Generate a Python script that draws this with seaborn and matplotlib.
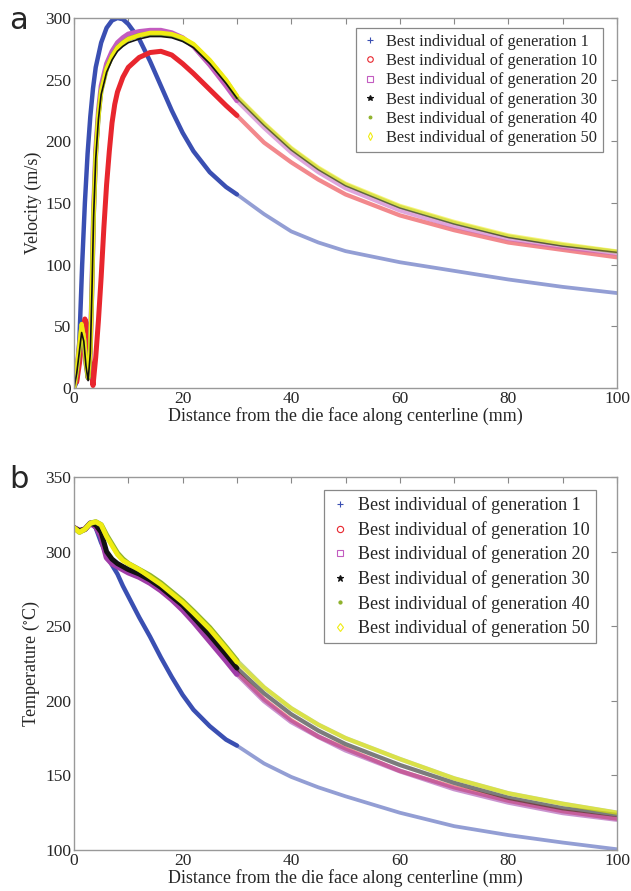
import matplotlib
matplotlib.use("Agg")
import matplotlib.pyplot as plt
from matplotlib.lines import Line2D
from matplotlib.ticker import MultipleLocator
import seaborn as sns
import pandas as pd

# ---- data ----
gen_labels = ["Best individual of generation 1", "Best individual of generation 10",
              "Best individual of generation 20", "Best individual of generation 30",
              "Best individual of generation 40", "Best individual of generation 50"]

# panel a: velocity (m/s) along centerline
vel_x_g1 = [0, 0.5, 1, 1.5, 2, 2.5, 3, 3.5, 4, 5, 6, 7, 8, 9, 10, 12, 14, 16, 18, 20,
            22, 25, 28, 30, 35, 40, 45, 50, 60, 70, 80, 90, 100]
vel_g1 = [0, 5, 40, 100, 150, 190, 220, 243, 260, 280, 292, 298, 300, 299, 295, 283, 265,
          245, 225, 207, 192, 175, 163, 157, 141, 127, 118, 111, 102, 95, 88, 82, 77]

vel_x_g10 = [0.5, 1, 1.5, 2, 2.5, 3, 3.5, 4, 4.5, 5, 5.5, 6, 6.5, 7, 7.5, 8, 9, 10, 12, 14,
             16, 18, 20, 22, 25, 28, 30, 35, 40, 45, 50, 60, 70, 80, 90, 100]
vel_g10 = [5, 20, 40, 56, 50, 20, 2, 25, 55, 90, 130, 165, 192, 215, 230, 240, 252, 260,
           268, 272, 273, 270, 263, 255, 242, 229, 221, 199, 183, 169, 157, 140, 128, 118, 112, 106]

vel_x_top = [0, 0.5, 1, 1.4, 1.8, 2.2, 2.6, 3, 3.3, 3.6, 4, 4.5, 5, 6, 7, 8, 9, 10, 12, 14,
             16, 18, 20, 22, 25, 28, 30, 35, 40, 45, 50, 60, 70, 80, 90, 100]
vel_g20 = [0, 15, 35, 48, 40, 20, 8, 30, 82, 143, 193, 225, 245, 263, 273, 280, 284, 287,
           289, 290, 290, 288, 284, 277, 262, 245, 233, 211, 191, 175, 162, 144, 131, 121, 114, 109]
vel_g30 = [0, 12, 30, 45, 38, 18, 6, 28, 78, 138, 186, 218, 238, 256, 266, 273, 277, 280,
           283, 285, 285, 284, 281, 276, 263, 247, 235, 213, 193, 177, 164, 146, 133, 122, 115, 110]
vel_g40 = [0, 14, 33, 50, 40, 20, 8, 30, 80, 140, 189, 221, 241, 259, 269, 276, 280, 283,
           286, 287, 287, 286, 283, 278, 265, 249, 236, 214, 194, 178, 165, 147, 134, 123, 116, 110.5]
vel_g50 = [0, 15, 35, 52, 42, 22, 9, 31, 80, 140, 189, 221, 241, 259, 269, 276, 280, 283,
           286, 288, 288, 287, 284, 279, 266, 250, 237, 215, 195, 179, 166, 148, 135, 124, 117, 111]

# panel b: temperature (degC) along centerline
tmp_x = [0, 1, 2, 3, 4, 5, 6, 7, 8, 9, 10, 12, 14, 16, 18, 20, 22, 25, 28, 30,
         35, 40, 45, 50, 60, 70, 80, 90, 100]
tmp_g1 = [316, 314, 315, 319, 316, 306, 298, 291, 285, 277, 270, 256, 243, 229, 216, 204,
          194, 183, 174, 170, 158, 149, 142, 136, 125, 116, 110, 105, 100.5]
tmp_g10 = [316, 314, 315, 319, 317, 311, 297, 293, 291, 289, 287, 284, 280, 275, 269, 262,
           254, 241, 228, 219, 201, 187, 176, 168, 153, 142, 133, 126, 121]
tmp_g20 = [316, 314, 315, 319, 317, 310, 296, 292, 290, 288, 286, 283, 279, 274, 268, 261,
           253, 240, 227, 218, 200, 186, 176, 167, 153, 141, 132, 125, 120.5]
tmp_g30 = [316, 314, 315, 319, 318, 313, 300, 295, 292, 290, 288, 285, 281, 276, 270, 264,
           256, 244, 231, 222, 205, 191, 180, 171, 157, 145, 135, 128, 123.5]
tmp_g40 = [316, 313, 315, 319, 320, 318, 311, 305, 299, 295, 292, 288, 284, 279, 273, 267,
           260, 249, 236, 227, 209, 195, 184, 175, 161, 148, 138, 131, 125]
tmp_g50 = [316, 313, 315, 319, 320, 318, 310, 304, 298, 294, 292, 288, 283, 278, 272, 266,
           259, 248, 235, 226, 209, 195, 184, 175, 161, 148, 138, 131, 125]

colors = ["#3a4fb2", "#e8262e", "#c35cc0", "#111111", "#8fb22c", "#f0ec12"]
markers = ["+", "o", "s", "*", ".", "d"]


def draw_series(ax, xs, ys, color, lw, split=30):
    df = pd.DataFrame({"x": xs, "y": ys})
    near = df[df.x <= split]
    far = df[df.x >= split]
    sns.lineplot(data=near, x="x", y="y", color=color, linewidth=lw, ax=ax,
                 estimator=None, sort=False)
    sns.lineplot(data=far, x="x", y="y", color=color, linewidth=lw * 0.85, alpha=0.55,
                 ax=ax, estimator=None, sort=False)


def style_axes(ax, ymin, ymax, ystep):
    ax.set_xlim(0, 100)
    ax.set_ylim(ymin, ymax)
    ax.xaxis.set_major_locator(MultipleLocator(20))
    ax.xaxis.set_minor_locator(MultipleLocator(10))
    ax.yaxis.set_major_locator(MultipleLocator(ystep))
    ax.tick_params(which="both", direction="in", top=True, right=True,
                   length=4, width=0.8, color="#888888", labelsize=12.5, pad=2)
    for s in ax.spines.values():
        s.set_color("#999999")
        s.set_linewidth(1.0)
    ax.set_xlabel("Distance from the die face along centerline (mm)", fontsize=13, labelpad=0)


def make_legend(ax, anchor, fs, spacing, msize):
    handles = []
    for c, m in zip(colors, markers):
        face = c if m in ["+", "*", "."] else "none"
        handles.append(Line2D([], [], linestyle="none", marker=m, color=c,
                              markerfacecolor=face, markersize=msize, markeredgewidth=0.8))
    leg = ax.legend(handles, gen_labels, loc="upper right", bbox_to_anchor=anchor,
                    borderaxespad=0, fontsize=fs, labelspacing=spacing, handlelength=1.0,
                    handletextpad=0.5, borderpad=0.35, fancybox=False, framealpha=1)
    leg.get_frame().set_edgecolor("#888888")
    leg.get_frame().set_linewidth(0.9)


sns.set_theme(style="white")
plt.rcParams["font.family"] = ["Liberation Serif", "DejaVu Serif"]
plt.rcParams["mathtext.fontset"] = "stix"

fig = plt.figure(figsize=(6.31, 8.91), dpi=100)
ax_a = fig.add_axes([0.1173, 0.5645, 0.8605, 0.4153])
ax_b = fig.add_axes([0.1173, 0.0460, 0.8605, 0.4186])

# panel a
draw_series(ax_a, vel_x_g1, vel_g1, colors[0], 3.2)
draw_series(ax_a, vel_x_g10, vel_g10, colors[1], 3.6)
draw_series(ax_a, vel_x_top, vel_g20, colors[2], 3.6)
draw_series(ax_a, vel_x_top, vel_g40, colors[4], 3.4)
draw_series(ax_a, vel_x_top, vel_g50, colors[5], 3.0)
draw_series(ax_a, vel_x_top, vel_g30, colors[3], 1.2)
style_axes(ax_a, 0, 300, 50)
ax_a.set_ylabel("Velocity (m/s)", fontsize=13, labelpad=2)
make_legend(ax_a, (0.974, 0.973), 11.8, 0.2, 4)

# panel b
draw_series(ax_b, tmp_x, tmp_g1, colors[0], 3.2)
draw_series(ax_b, tmp_x, tmp_g10, colors[1], 3.6)
draw_series(ax_b, tmp_x, tmp_g20, "#a03ca8", 4.2)
draw_series(ax_b, tmp_x, tmp_g30, colors[3], 3.6)
draw_series(ax_b, tmp_x, tmp_g40, colors[4], 3.8)
draw_series(ax_b, tmp_x, tmp_g50, colors[5], 3.4)
style_axes(ax_b, 100, 350, 50)
ax_b.set_ylabel("Temperature ($^{\\circ}$C)", fontsize=13, labelpad=2)
make_legend(ax_b, (0.961, 0.965), 13, 0.37, 4.5)

fig.text(0.030, 0.977, "a", fontsize=22, family="DejaVu Sans", va="center", ha="center")
fig.text(0.030, 0.462, "b", fontsize=22, family="DejaVu Sans", va="center", ha="center")

fig.savefig("out.png", dpi=100)
